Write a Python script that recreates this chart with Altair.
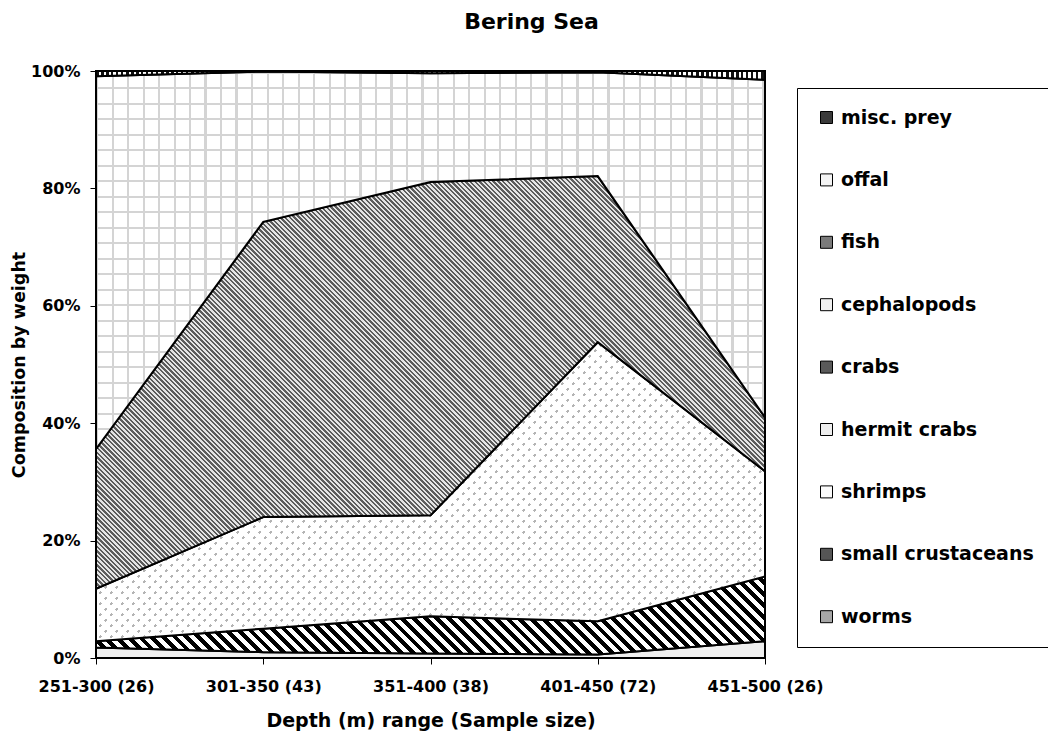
import altair as alt
import pandas as pd
import numpy as np

# ---------------- data (percent of weight) ----------------
depths = ["251-300 (26)", "301-350 (43)", "351-400 (38)", "401-450 (72)", "451-500 (26)"]
worms = [0.0, 0.0, 0.0, 0.0, 0.0]
small_crustaceans = [0.0, 0.0, 0.0, 0.0, 0.0]
shrimps = [0.0, 0.0, 0.0, 0.0, 0.0]
hermit_crabs = [1.8, 1.0, 0.75, 0.6, 2.85]
crabs = [1.05, 4.0, 6.35, 5.65, 11.05]
cephalopods = [8.95, 19.0, 17.2, 47.55, 17.9]
fish = [23.8, 50.3, 56.8, 28.3, 9.2]
offal = [63.5, 25.6, 18.5, 17.7, 57.5]
misc_prey = [0.9, 0.1, 0.4, 0.2, 1.5]

# bottom -> top stacking order
series_names = ["worms", "small crustaceans", "shrimps", "hermit crabs", "crabs",
                "cephalopods", "fish", "offal", "misc. prey"]
series_values = [worms, small_crustaceans, shrimps, hermit_crabs, crabs,
                 cephalopods, fish, offal, misc_prey]

legend_order = list(reversed(series_names))
legend_colors = ["#3a3a3a", "#f4f4f4", "#7a7a7a", "#f0f0f0", "#5a5a5a",
                 "#eeeeee", "#fbfbfb", "#555555", "#a6a6a6"]

rows = []
for order, (name, vals) in enumerate(zip(series_names, series_values)):
    for d, v in zip(depths, vals):
        rows.append({"depth": d, "cat": name, "order": order, "value": v / 100.0})
df = pd.DataFrame(rows)

PLOT_W, PLOT_H = 669, 587
FONT = "DejaVu Sans"

# bounding box (pixels) of every stacked band, used to lay out the hatch gradients
cum = np.cumsum(np.array(series_values), axis=0)
bbox = {}
for i, name in enumerate(series_names):
    top = cum[i].max()
    bottom = (cum[i] - np.array(series_values[i])).min()
    bbox[name] = (PLOT_W, max((top - bottom) / 100.0 * PLOT_H, 1.0))


def _stops(length, period, frac, ca, cb):
    step = period / length
    out = []
    k = 0
    while k * step < 1:
        s = k * step
        m = min(s + frac * step, 1.0)
        e = min(s + step, 1.0)
        out += [(s, ca), (m, ca), (m, cb), (e, cb)]
        k += 1
    return [alt.GradientStop(offset=round(o, 6), color=c) for o, c in out]


def hatch_back(W, H, period, frac, ca, cb):  # "\" stripes
    s = W * (W + H) / (W * W + H * H)
    return alt.LinearGradient(gradient="linear", stops=_stops(W + H, period, frac, ca, cb),
                              x1=0, y1=1, x2=round(s, 6), y2=round(1 - s * H / W, 6))


def hatch_fwd(W, H, period, frac, ca, cb):  # "/" stripes
    k = (W + H) / (W * W + H * H)
    return alt.LinearGradient(gradient="linear", stops=_stops(W + H, period, frac, ca, cb),
                              x1=0, y1=0, x2=round(k * W, 6), y2=round(k * H, 6))


def vert(W, period, frac, ca, cb):
    return alt.LinearGradient(gradient="linear", stops=_stops(W, period, frac, ca, cb),
                              x1=0, y1=0, x2=1, y2=0)


def horiz(H, period, frac, ca, cb):
    return alt.LinearGradient(gradient="linear", stops=_stops(H, period, frac, ca, cb),
                              x1=0, y1=0, x2=0, y2=1)


CLEAR = "rgba(255,255,255,0)"

x_enc = alt.X("depth:N", sort=depths, scale=alt.Scale(padding=0),
              axis=alt.Axis(title="Depth (m) range (Sample size)", labelAngle=0,
                            labelPadding=14, tickSize=6, titlePadding=17,
                            titleFontSize=19, labelFontSize=16))
y_enc = alt.Y("y1:Q", scale=alt.Scale(domain=[0, 1]),
              axis=alt.Axis(title="Composition by weight", format=".0%",
                            values=[0, 0.2, 0.4, 0.6, 0.8, 1.0], tickSize=6,
                            labelPadding=10, titlePadding=2, titleFontSize=17.5,
                            labelFontSize=16))
y2_enc = alt.Y2("y0:Q")

stacked = alt.Chart(df).transform_stack(
    stack="value", groupby=["depth"], as_=["y0", "y1"],
    sort=[alt.SortField("order", order="ascending")])

base = stacked.mark_area(strokeWidth=0).encode(
    x=x_enc, y=y_enc, y2=y2_enc,
    color=alt.Color("cat:N", scale=alt.Scale(domain=legend_order, range=legend_colors),
                    legend=alt.Legend(orient="none", legendX=701, legendY=17, title=None,
                                      labelFont=FONT, labelFontSize=19, labelFontWeight="bold",
                                      labelColor="black", labelOffset=5, labelLimit=400,
                                      symbolType="square", symbolSize=144,
                                      symbolStrokeColor="black", symbolStrokeWidth=1,
                                      symbolOpacity=1, rowPadding=42.4, padding=20,
                                      strokeColor="black", fillColor="white")),
    order=alt.Order("order:Q"))


def band(name, fills, stroke=True):
    out = []
    for j, f in enumerate(fills):
        last = j == len(fills) - 1
        props = dict(fill=f, fillOpacity=1)
        if last and stroke:
            props.update(stroke="black", strokeWidth=2, strokeJoin="miter")
        else:
            props.update(strokeWidth=0)
        out.append(stacked.transform_filter(alt.datum.cat == name)
                   .mark_area(**props).encode(x=x_enc, y=y_enc, y2=y2_enc))
    return out


layers = [base]
W, H = bbox["hermit crabs"]
layers += band("hermit crabs", ["#f0f0f0"])
W, H = bbox["crabs"]
layers += band("crabs", [hatch_back(W, H, 11.7, 0.5, "#000000", "#ffffff")])
W, H = bbox["cephalopods"]
layers += band("cephalopods", [hatch_fwd(W, H, 11, 0.3, "#b4b4b4", "#ffffff"),
                               hatch_back(W, H, 11, 0.62, "#ffffff", CLEAR)])
W, H = bbox["fish"]
layers += band("fish", [hatch_back(W, H, 4.7, 0.5, "#5c5c5c", "#e4e4e4")])
W, H = bbox["offal"]
layers += band("offal", [horiz(H, 15.5, 0.14, "#d4d4d4", "#ffffff"),
                         vert(W, 15.5, 0.14, "#d4d4d4", CLEAR)])
W, H = bbox["misc. prey"]
layers += band("misc. prey", [vert(W, 5, 0.5, "#111111", "#ffffff")])

chart = alt.layer(*layers).properties(
    width=PLOT_W, height=PLOT_H,
    title=alt.TitleParams("Bering Sea", font=FONT, fontSize=22, fontWeight="bold",
                          color="black", anchor="middle", frame="group", dx=101, offset=29),
    autosize=alt.AutoSizeParams(type="none"),
    padding={"left": 88, "top": 63, "right": 283, "bottom": 80},
).configure_view(stroke=None).configure_axis(
    grid=False, domainColor="black", tickColor="black", domainWidth=1.2,
    labelFont=FONT, labelFontWeight="bold", labelColor="black",
    titleFont=FONT, titleFontWeight="bold", titleColor="black")

chart.save("out.html", embed_options={"renderer": "svg", "actions": False})
